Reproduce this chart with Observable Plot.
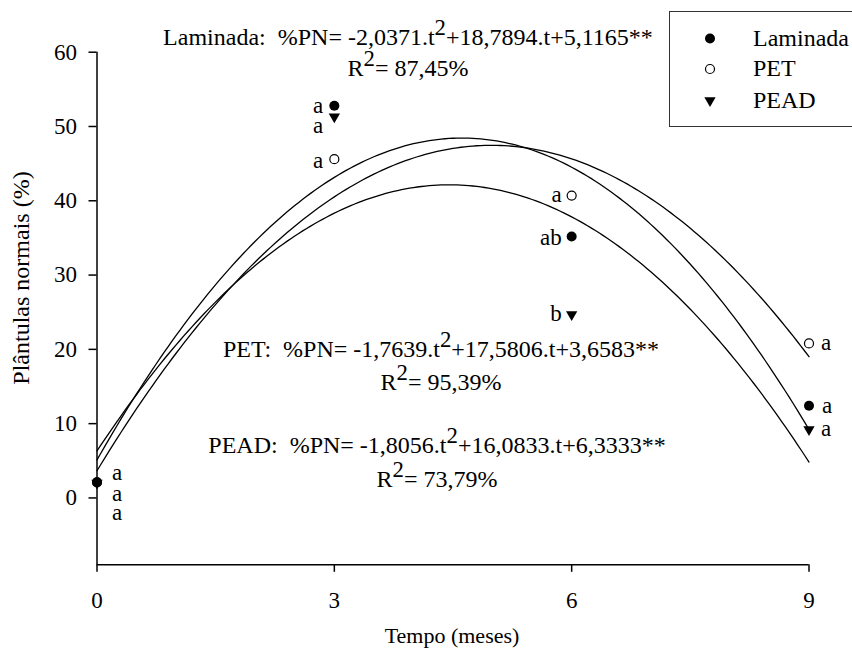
<!DOCTYPE html>
<html><head><meta charset="utf-8">
<script src="https://cdn.jsdelivr.net/npm/d3@7"></script>
<script src="https://cdn.jsdelivr.net/npm/@observablehq/plot@0.6"></script>
<style>
body{margin:0;background:#fff;}
#wrap{position:relative;width:852px;height:655px;overflow:hidden;font-family:"Liberation Serif","Times New Roman",Times,"Noto Serif","DejaVu Serif",serif;color:#000;background:#fff;}
#wrap svg{position:absolute;left:0;top:0;}
.ov{position:absolute;white-space:nowrap;line-height:1;font-size:24px;}
.c{transform:translateX(-50%);}
.sup{position:relative;top:-0.42em;font-size:0.95em;}
#legend{position:absolute;left:669px;top:11px;width:240px;height:116px;border:1.5px solid #333;box-sizing:border-box;}
</style>
</head><body>
<div id="wrap"></div>
<script>
// ---- data ----
const tempo = [0, 3, 6, 9];
const series = ["Laminada", "PET", "PEAD"];
const laminada = [2.1, 52.8, 35.2, 12.4];
const pet = [2.1, 45.6, 40.7, 20.8];
const pead = [2.0, 51.3, 24.7, 9.2];
const letrasLaminada = ["a", "a", "ab", "a"];
const letrasPET = ["a", "a", "a", "a"];
const letrasPEAD = ["a", "a", "b", "a"];
const coefLaminada = [-2.0371, 18.7894, 5.1165];
const coefPET = [-1.7639, 17.5806, 3.6583];
const coefPEAD = [-1.8056, 16.0833, 6.3333];
const coefText = [["-2,0371", "18,7894", "5,1165"], ["-1,7639", "17,5806", "3,6583"], ["-1,8056", "16,0833", "6,3333"]];
const r2Text = ["87,45%", "95,39%", "73,79%"];
const yTicks = [0, 10, 20, 30, 40, 50, 60];
const xTicks = [0, 3, 6, 9];
const xTitle = "Tempo (meses)";
const yTitle = "Plântulas normais (%)";

const FONT = "'Liberation Serif','Times New Roman',Times,'Noto Serif','DejaVu Serif',serif";

// ---- build tables ----
const values = [laminada, pet, pead];
const letters = [letrasLaminada, letrasPET, letrasPEAD];
const coefs = [coefLaminada, coefPET, coefPEAD];
const points = [];
series.forEach((s, i) => tempo.forEach((t, j) => points.push({serie: s, t, v: values[i][j], letra: letters[i][j], j})));
const curves = [];
series.forEach((s, i) => {
  const [a, b, c] = coefs[i];
  d3.range(0, 9.0001, 0.05).forEach(t => curves.push({serie: s, t, v: a * t * t + b * t + c}));
});

// label offsets (pixels) per series and time index
const off = {
  Laminada: [[15, -10, "start"], [-11, 0, "end"], [-10, 1, "end"], [13, 0, "start"]],
  PET: [[15, 11, "start"], [-11, 1, "end"], [-10, -1, "end"], [12, -1, "start"]],
  PEAD: [[15, 30, "start"], [-11, 9, "end"], [-10, -1, "end"], [12, -1, "start"]]
};
const labelMarks = points.map(p => {
  const [dx, dy, anchor] = off[p.serie][p.j];
  return Plot.text([p], {x: "t", y: "v", text: "letra", dx, dy, textAnchor: anchor, fontSize: 23, fill: "#000"});
});

const chart = Plot.plot({
  width: 852, height: 655,
  marginLeft: 96.5, marginRight: 43.5, marginTop: 51.7, marginBottom: 90.7,
  x: {domain: [0, 9]},
  y: {domain: [-9, 60]},
  style: {fontFamily: FONT, fontSize: "23px", color: "#000", background: "transparent"},
  marks: [
    Plot.axisY({ticks: yTicks, tickSize: 8, tickPadding: 12, label: null, fontSize: 23, strokeWidth: 1.5}),
    Plot.axisX({ticks: xTicks, tickSize: 7.5, tickPadding: 19, label: null, fontSize: 23, strokeWidth: 1.5}),
    Plot.ruleX([0], {y1: -9, y2: 60, stroke: "#000", strokeWidth: 1.5}),
    Plot.ruleY([-9], {x1: 0, x2: 9, stroke: "#000", strokeWidth: 1.5}),
    Plot.line(curves, {x: "t", y: "v", z: "serie", stroke: "#000", strokeWidth: 1.3, curve: "linear"}),
    Plot.dot(points.filter(d => d.serie === "PEAD"), {x: "t", y: "v", symbol: "triangle", rotate: 180, r: 4.2, fill: "#000", stroke: "none"}),
    Plot.dot(points.filter(d => d.serie === "PET"), {x: "t", y: "v", symbol: "circle", r: 4.5, fill: "#fff", stroke: "#000", strokeWidth: 1.2}),
    Plot.dot(points.filter(d => d.serie === "Laminada"), {x: "t", y: "v", symbol: "circle", r: 5, fill: "#000", stroke: "none"}),
    ...labelMarks
  ]
});

const wrap = document.getElementById("wrap");
wrap.appendChild(chart);

function add(html, cls, left, top, extra) {
  const d = document.createElement("div");
  d.className = "ov " + cls;
  d.style.left = left + "px";
  d.style.top = top + "px";
  if (extra) Object.assign(d.style, extra);
  d.innerHTML = html;
  wrap.appendChild(d);
  return d;
}
const sup2 = '<span class="sup">2</span>';
function eq(i) {
  return `${series[i]}:&nbsp; %PN= ${coefText[i][0]}.t${sup2}+${coefText[i][1]}.t+${coefText[i][2]}**`;
}
// equation annotations: [centre x, eq top, R2 top] in pixels
const eqPos = [[408, 25, 56], [441, 337, 370], [437, 433, 467]];
eqPos.forEach(([cx, t1, t2], i) => {
  add(eq(i), "c", cx, t1);
  add(`R${sup2}= ${r2Text[i]}`, "c", cx, t2);
});

// axis titles
add(xTitle, "c", 452, 625, {fontSize: "22px"});
add(yTitle, "", 21, 278, {fontSize: "24px", transform: "translate(-50%,-50%) rotate(-90deg)"});

// legend
const lg = document.createElement("div");
lg.id = "legend";
wrap.appendChild(lg);
const lsvg = d3.select(lg).append("svg").attr("width", 240).attr("height", 116).style("position", "absolute").style("left", "-1.5px").style("top", "-1.5px");
const sym = [
  g => g.append("circle").attr("r", 5).attr("fill", "#000"),
  g => g.append("circle").attr("r", 4.5).attr("fill", "#fff").attr("stroke", "#000").attr("stroke-width", 1.2),
  g => g.append("path").attr("d", d3.symbol(d3.symbolTriangle, Math.PI * 4.2 * 4.2)()).attr("transform", "rotate(180)").attr("fill", "#000")
];
const rowsY = [27.5, 58, 89.5];
series.forEach((s, i) => {
  const g = lsvg.append("g").attr("transform", `translate(41,${rowsY[i]})`);
  sym[i](g);
  lsvg.append("text").attr("x", 84).attr("y", rowsY[i]).attr("dy", "0.3em")
    .attr("font-family", FONT).attr("font-size", 24).text(s);
});
</script>
</body></html>
